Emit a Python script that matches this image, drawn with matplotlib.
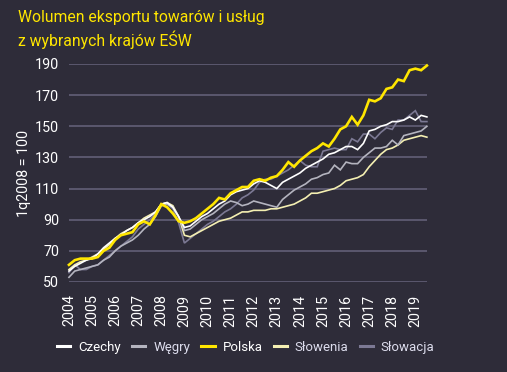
import numpy as np
import matplotlib.pyplot as plt

plt.rcParams['font.family'] = ['Roboto', 'DejaVu Sans']

# -----------------------------
# Data: quarterly, 1q2008 = 100
# 2004Q1 .. 2019Q3
# -----------------------------
years = list(range(2004, 2020))

polska = [61, 64, 65, 65, 65, 66, 70, 72, 77, 80, 81, 82,
          87, 89, 87, 93, 100, 98, 94, 89, 88, 89, 91, 94,
          97, 100, 104, 103, 107, 109, 111, 111, 115, 116, 115, 117,
          118, 122, 127, 124, 128, 131, 134, 136, 139, 137, 142, 148,
          150, 156, 151, 157, 167, 166, 168, 174, 175, 180, 179, 186,
          187, 186, 189]

czechy = [57, 60, 62, 64, 65, 68, 72, 75, 78, 80, 83, 85,
          88, 90, 92, 95, 100, 101, 98, 92, 85, 86, 89, 92,
          94, 97, 100, 102, 106, 108, 109, 110, 113, 115, 114, 112,
          110, 114, 116, 118, 120, 123, 125, 127, 129, 132, 133, 135,
          137, 137, 135, 139, 147, 148, 150, 151, 153, 153, 154, 156,
          154, 157, 156]

wegry = [53, 57, 58, 59, 60, 61, 64, 66, 70, 73, 75, 77,
         80, 84, 87, 92, 99, 100, 98, 92, 83, 84, 87, 90,
         92, 94, 97, 100, 102, 101, 99, 100, 102, 101, 100, 99,
         98, 103, 106, 109, 111, 113, 116, 117, 119, 120, 125, 122,
         127, 126, 126, 130, 133, 136, 136, 137, 141, 138, 144, 145,
         146, 147, 150]

slowenia = [58, 61, 63, 64, 66, 68, 71, 74, 78, 81, 83, 85,
            88, 91, 93, 95, 100, 101, 99, 92, 80, 79, 81, 83,
            85, 87, 89, 90, 91, 93, 95, 95, 96, 96, 96, 97,
            97, 98, 99, 100, 102, 104, 107, 107, 108, 109, 110, 112,
            115, 116, 117, 119, 124, 128, 132, 135, 136, 138, 141, 142,
            143, 144, 143]

slowacja = [56, 61, 58, 58, 60, 61, 64, 67, 70, 73, 76, 79,
            84, 87, 90, 94, 99, 100, 97, 88, 75, 78, 81, 84,
            87, 89, 92, 95, 97, 100, 104, 106, 109, 114, 116, 116,
            118, 120, 122, 125, 128, 125, 124, 124, 134, 135, 136, 135,
            135, 142, 140, 145, 145, 142, 146, 149, 148, 154, 154, 157,
            160, 153, 153]

quarters = 2004 + np.arange(len(polska)) / 4

bg = "#2e2c39"
grid_col = "#67647c"

fig = plt.figure(figsize=(5.07, 3.72), dpi=100, facecolor=bg)
ax = fig.add_axes([0.136, 0.242, 0.706, 0.586], facecolor=bg)

series = [
    ("Słowacja", slowacja, "#7c7994", 1.2, "#dcdcec"),
    ("Słowenia", slowenia, "#f4efb2", 1.2, "#dcdcec"),
    ("Węgry", wegry, "#b4b4bf", 1.2, "#dcdcec"),
    ("Czechy", czechy, "#ffffff", 1.2, "#ffffff"),
    ("Polska", polska, "#ffe600", 1.9, "#ffffff"),
]

lines = {}
for i, (name, vals, col, lw, _) in enumerate(series):
    ln, = ax.plot(quarters, vals, color=col, lw=lw, zorder=3 + i,
                  solid_joinstyle="miter", clip_on=False)
    lines[name] = ln

ax.set_xlim(2004, 2019.5)
ax.set_ylim(50, 190)
ax.set_yticks(range(50, 191, 20))
ax.set_xticks(years)
ax.set_xticklabels([str(y) for y in years], rotation=90)

ax.grid(axis="y", color=grid_col, lw=1.1)
ax.set_axisbelow(True)
for s in ax.spines.values():
    s.set_visible(False)
ax.tick_params(length=0, colors="white", labelsize=10.3)
ax.tick_params(axis="x", pad=9)
ax.tick_params(axis="y", pad=7)

ax.set_ylabel("1q2008 = 100", color="white", fontsize=10.3, labelpad=3)

# Title
fig.text(0.036, 0.972, "Wolumen eksportu towarów i usług\nz wybranych krajów EŚW",
         color="#ffe600", fontsize=11.3, va="top", ha="left", linespacing=1.3)

# Legend
order = ["Czechy", "Węgry", "Polska", "Słowenia", "Słowacja"]
text_cols = {name: tc for name, _, _, _, tc in series}
leg = fig.legend([lines[n] for n in order], order,
                 loc="center", bbox_to_anchor=(0.485, 0.067), ncol=5,
                 frameon=False, fontsize=9.5, handlelength=1.0,
                 handletextpad=0.6, columnspacing=0.85)
for h in leg.legend_handles:
    h.set_linewidth(2.2)
for t, n in zip(leg.get_texts(), order):
    t.set_color(text_cols[n])

plt.savefig("out.png", dpi=100, facecolor=bg)
